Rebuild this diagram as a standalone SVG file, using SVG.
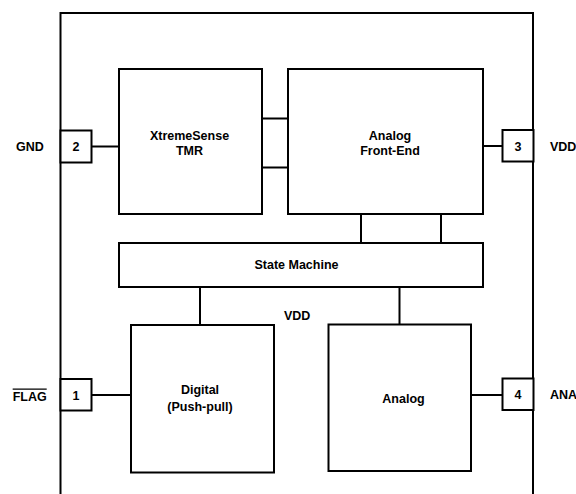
<svg xmlns="http://www.w3.org/2000/svg" width="576" height="494" viewBox="0 0 576 494">
<style>
.b{fill:#fff;stroke:#000;stroke-width:2}
.l{fill:none;stroke:#000;stroke-width:2}
text{font-family:"Liberation Sans",Arial,sans-serif;font-weight:bold;font-size:12.5px;fill:#000}
.c{text-anchor:middle}
</style>
<rect width="576" height="494" fill="#fff"/>
<g id="package"><path class="l" d="M60.5,500 V13 H533 V500"/></g>
<g id="connectors">
<path class="l" d="M91,146.5 H119"/>
<path class="l" d="M262,118.5 H288 M262,167.5 H288"/>
<path class="l" d="M483,146 H503"/>
<path class="l" d="M361,214 V243 M441,214 V243"/>
<path class="l" d="M200,287 V325"/>
<path class="l" d="M399.5,287 V325"/>
<path class="l" d="M91,395 H131"/>
<path class="l" d="M471,395 H503"/>
</g>
<g id="pin2"><rect class="b" x="60.5" y="130.5" width="31" height="32"/><text class="c" x="76" y="151">2</text><text class="c" x="30" y="151">GND</text></g>
<g id="pin3"><rect class="b" x="502.5" y="130" width="31" height="31.5"/><text class="c" x="518" y="150.5">3</text><text x="550" y="150.5">VDD</text></g>
<g id="pin1"><rect class="b" x="60.5" y="379" width="31" height="31.5"/><text class="c" x="76" y="400">1</text><text class="c" x="29.7" y="400.5" style="text-decoration:overline">FLAG</text></g>
<g id="pin4"><rect class="b" x="502.5" y="378.5" width="31" height="31.5"/><text class="c" x="518" y="399">4</text><text x="550" y="399">ANA</text></g>
<g id="tmr"><rect class="b" x="119" y="69" width="143" height="145"/><text class="c" x="189.5" y="139.5">XtremeSense</text><text class="c" x="189.5" y="154.5">TMR</text></g>
<g id="afe"><rect class="b" x="288" y="69" width="195" height="145"/><text class="c" x="390" y="139.5">Analog</text><text class="c" x="390" y="154.5">Front-End</text></g>
<g id="sm"><rect class="b" x="119" y="243" width="364" height="44"/><text class="c" x="296.5" y="269">State Machine</text></g>
<g id="vdd-label"><text x="284" y="320">VDD</text></g>
<g id="digital"><rect class="b" x="131" y="325" width="143" height="147.5"/><text class="c" x="200" y="394">Digital</text><text class="c" x="200" y="410.5">(Push-pull)</text></g>
<g id="analog"><rect class="b" x="328.5" y="324.5" width="142.5" height="146.5"/><text class="c" x="403.5" y="403">Analog</text></g>
</svg>
